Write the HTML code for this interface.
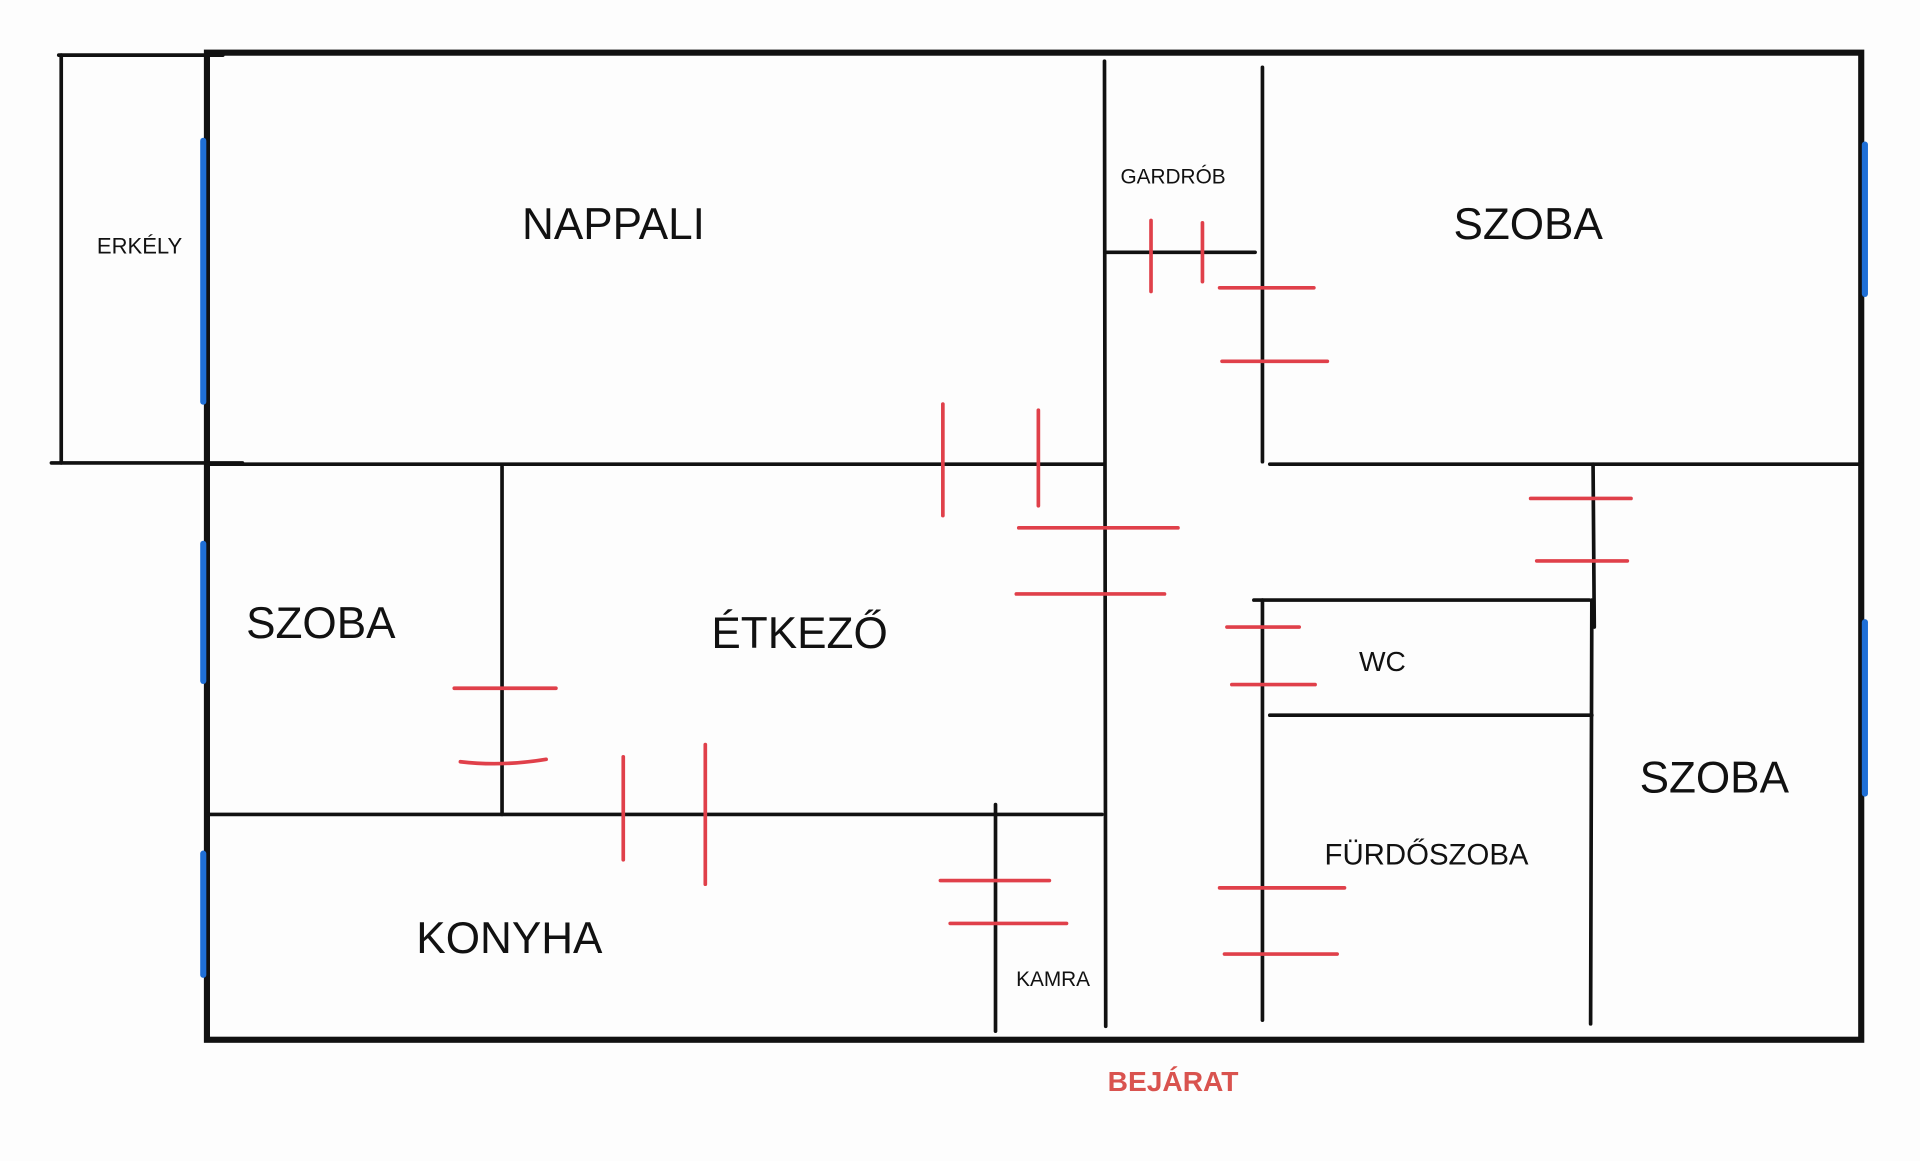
<!DOCTYPE html>
<html><head><meta charset="utf-8"><style>
html,body{margin:0;padding:0;background:#fdfdfd;width:1920px;height:1161px;overflow:hidden}
svg{display:block}
text{font-family:"Liberation Sans",sans-serif;fill:#111}
</style></head><body>
<svg width="1920" height="1161" viewBox="0 0 1568 948" preserveAspectRatio="none">
<rect width="1568" height="948" fill="#fdfdfd"/>
<g stroke="#111" stroke-linecap="round" fill="none">
<rect x="169" y="43" width="1351" height="806" stroke-width="5"/>
<g stroke-width="3">
<line x1="48" y1="45" x2="182" y2="45"/>
<line x1="50" y1="45" x2="50" y2="378"/>
<line x1="42" y1="378" x2="198" y2="378"/>
<line x1="169" y1="379" x2="902" y2="379"/>
<line x1="902" y1="50" x2="903" y2="838"/>
<line x1="1031" y1="55" x2="1031" y2="377"/>
<line x1="903" y1="206" x2="1025" y2="206"/>
<line x1="1037" y1="379" x2="1520" y2="379"/>
<line x1="1301" y1="379" x2="1302" y2="512"/>
<line x1="1300" y1="490" x2="1299" y2="836"/>
<line x1="1024" y1="490" x2="1298" y2="490"/>
<line x1="1031" y1="490" x2="1031" y2="833"/>
<line x1="1037" y1="584" x2="1300" y2="584"/>
<line x1="410" y1="381" x2="410" y2="665"/>
<line x1="169" y1="665" x2="900" y2="665"/>
<line x1="813" y1="657" x2="813" y2="842"/>
</g>
</g>
<g stroke="#1f6fd6" stroke-width="5" stroke-linecap="round">
<line x1="166" y1="115" x2="166" y2="328"/>
<line x1="166" y1="444" x2="166" y2="556"/>
<line x1="166" y1="697" x2="166" y2="796"/>
<line x1="1523" y1="118" x2="1523" y2="240"/>
<line x1="1523" y1="508" x2="1523" y2="648"/>
</g>
<g stroke="#e0404a" stroke-width="3" stroke-linecap="round" fill="none">
<line x1="770" y1="330" x2="770" y2="421"/>
<line x1="848" y1="335" x2="848" y2="413"/>
<line x1="832" y1="431" x2="962" y2="431"/>
<line x1="830" y1="485" x2="951" y2="485"/>
<line x1="940" y1="180" x2="940" y2="238"/>
<line x1="982" y1="182" x2="982" y2="230"/>
<line x1="996" y1="235" x2="1073" y2="235"/>
<line x1="998" y1="295" x2="1084" y2="295"/>
<line x1="1250" y1="407" x2="1332" y2="407"/>
<line x1="1255" y1="458" x2="1329" y2="458"/>
<line x1="1002" y1="512" x2="1061" y2="512"/>
<line x1="1006" y1="559" x2="1074" y2="559"/>
<line x1="371" y1="562" x2="454" y2="562"/>
<path d="M376 622 Q410 626 446 620"/>
<line x1="509" y1="618" x2="509" y2="702"/>
<line x1="576" y1="608" x2="576" y2="722"/>
<line x1="768" y1="719" x2="857" y2="719"/>
<line x1="776" y1="754" x2="871" y2="754"/>
<line x1="996" y1="725" x2="1098" y2="725"/>
<line x1="1000" y1="779" x2="1092" y2="779"/>
</g>
<g text-anchor="middle">
<text x="501" y="195" font-size="36">NAPPALI</text>
<text x="114" y="207" font-size="18">ERKÉLY</text>
<text x="958" y="150" font-size="17">GARDRÓB</text>
<text x="1248" y="195" font-size="36">SZOBA</text>
<text x="262" y="521" font-size="36">SZOBA</text>
<text x="653" y="529" font-size="36">ÉTKEZŐ</text>
<text x="1129" y="548" font-size="23">WC</text>
<text x="1400" y="647" font-size="36">SZOBA</text>
<text x="1165" y="706" font-size="24">FÜRDŐSZOBA</text>
<text x="416" y="778" font-size="36">KONYHA</text>
<text x="860" y="805" font-size="17">KAMRA</text>
<text x="958" y="891" font-size="23" font-weight="bold" style="fill:#d9534f">BEJÁRAT</text>
</g>
</svg>
</body></html>
